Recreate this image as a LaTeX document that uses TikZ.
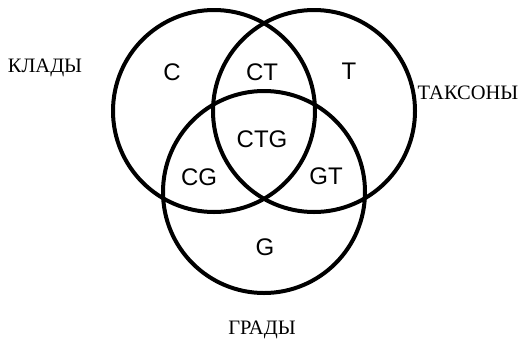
\documentclass[tikz,border=0pt]{standalone}
\usepackage{fontspec}
\setmainfont{Liberation Serif}
\newfontfamily\vennsans{Liberation Sans}
\usepackage{tikz}
\usetikzlibrary{positioning}

\begin{document}
\begin{tikzpicture}[x=1pt, y=-1pt,
  set/.style={draw, circle, line width=4pt, minimum size=202pt, inner sep=0pt},
  region/.style={font=\vennsans\fontsize{24}{28}\selectfont, inner sep=0pt},
  setname/.style={font=\fontsize{20.5}{24}\selectfont, inner sep=0pt}
]
  \useasboundingbox (0,0) rectangle (524,338);

  % the three sets
  \node[set] (K) at (214,111) {};
  \node[set] (T) at (314,111) {};
  \node[set] (G) at (264,192) {};

  % regions
  \node[region] (c)   at (172,72)  {C};
  \node[region] (ct)  at (262,72)  {CT};
  \node[region] (t)   at (349,71)  {T};
  \node[region] (ctg) at (262,139) {CTG};
  \node[region] (cg)  at (199,177) {CG};
  \node[region] (gt)  at (326,176) {GT};
  \node[region] (g)   at (265,247) {G};

  % names of the sets
  \node[setname] (kl) at (45,68)  {КЛАДЫ};
  \node[setname] (ta) at (468,93) {ТАКСОНЫ};
  \node[setname] (gr) at (262,330) {ГРАДЫ};
\end{tikzpicture}
\end{document}
